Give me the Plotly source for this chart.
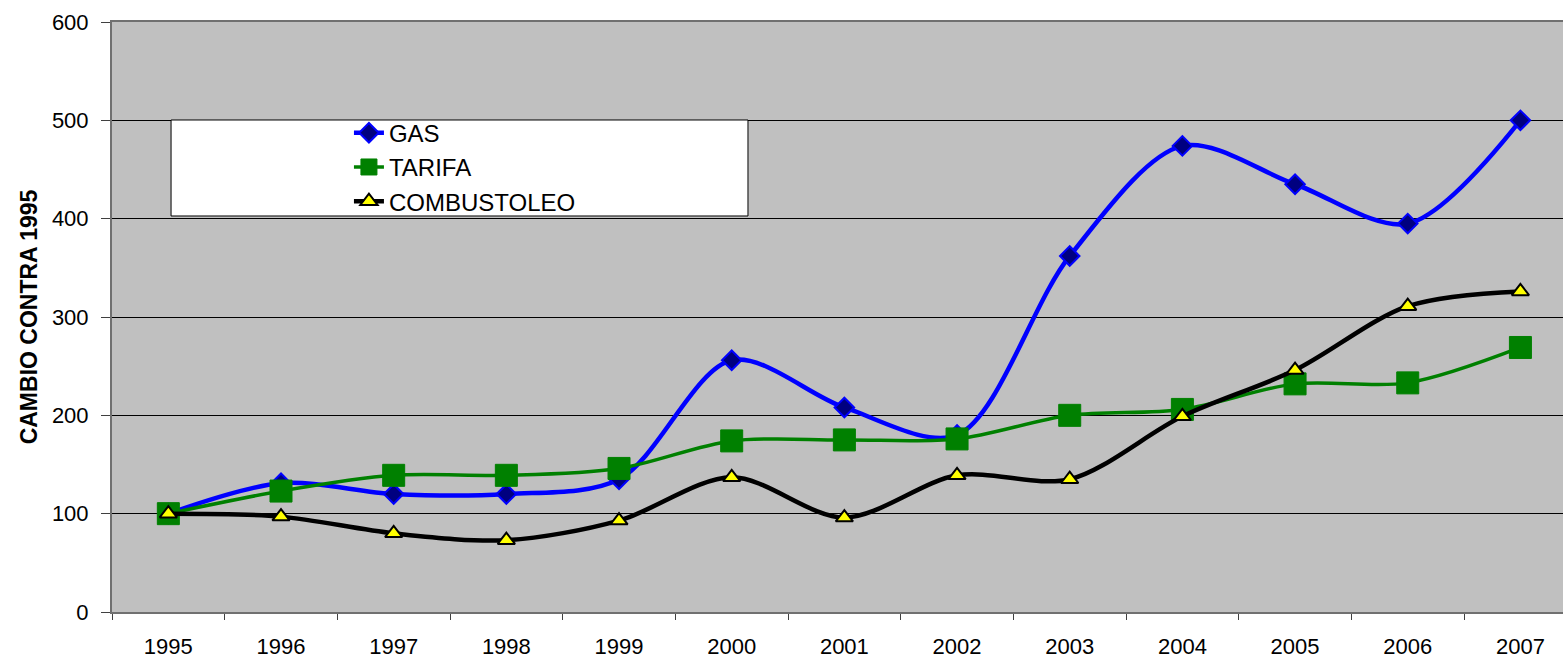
import plotly.graph_objects as go

years = ["1995", "1996", "1997", "1998", "1999", "2000", "2001",
         "2002", "2003", "2004", "2005", "2006", "2007"]
gas = [100, 131, 120, 120, 135, 256, 208, 180, 362, 474, 435, 395, 500]
tarifa = [100, 123, 139, 139, 146, 174, 175, 176, 200, 206, 232, 233, 269]
combustoleo = [100, 97, 80, 73, 93, 137, 96, 139, 135, 199, 246, 311, 326]

fig = go.Figure()

fig.add_trace(go.Scatter(
    x=years, y=gas, name="GAS", mode="lines+markers",
    line=dict(color="#0000FF", width=4.5, shape="spline", smoothing=0.9),
    marker=dict(symbol="diamond", size=15, color="#000080",
                line=dict(color="#0000FF", width=2)),
))
fig.add_trace(go.Scatter(
    x=years, y=tarifa, name="TARIFA", mode="lines+markers",
    line=dict(color="#008000", width=3.5, shape="spline", smoothing=0.9),
    marker=dict(symbol="square", size=22, color="#008000",
                line=dict(color="#008000", width=1)),
))
fig.add_trace(go.Scatter(
    x=years, y=combustoleo, name="COMBUSTOLEO", mode="lines+markers",
    line=dict(color="#000000", width=4.5, shape="spline", smoothing=0.9),
    marker=dict(symbol="triangle-up", size=15, color="#FFFF00",
                line=dict(color="#000000", width=2)),
))

# white legend panel
fig.add_shape(type="rect", xref="paper", yref="paper",
              x0=0.0407, x1=0.4383, y0=0.6712, y1=0.8339,
              fillcolor="white", line=dict(color="black", width=1),
              layer="above")

fig.update_layout(
    width=1563, height=658,
    margin=dict(l=112, r=0, t=22, b=46),
    paper_bgcolor="white",
    plot_bgcolor="#C0C0C0",
    font=dict(family="Arial, Liberation Sans, sans-serif", color="black", size=22),
    showlegend=True,
    legend=dict(x=0.1633, xanchor="left", y=0.8497, yanchor="top",
                bgcolor="rgba(0,0,0,0)", borderwidth=0,
                font=dict(size=24), itemwidth=30),
    xaxis=dict(
        type="category", range=[-0.5, 12.378],
        tickson="boundaries", ticks="outside", ticklen=6, tickcolor="#404040",
        showgrid=False, showline=True, linecolor="#707070", linewidth=2,
        mirror=True, tickfont=dict(size=22), ticklabelstandoff=14,
    ),
    yaxis=dict(
        range=[0, 600], tickvals=[0, 100, 200, 300, 400, 500, 600],
        ticks="outside", ticklen=9, tickcolor="#404040",
        showgrid=True, gridcolor="#000000", gridwidth=1,
        showline=True, linecolor="#707070", linewidth=2, zeroline=False,
        tickfont=dict(size=22), ticklabelstandoff=8,
        title=dict(text="<b>CAMBIO CONTRA 1995</b>", font=dict(size=23), standoff=8),
    ),
)

fig.write_html("out.html")
